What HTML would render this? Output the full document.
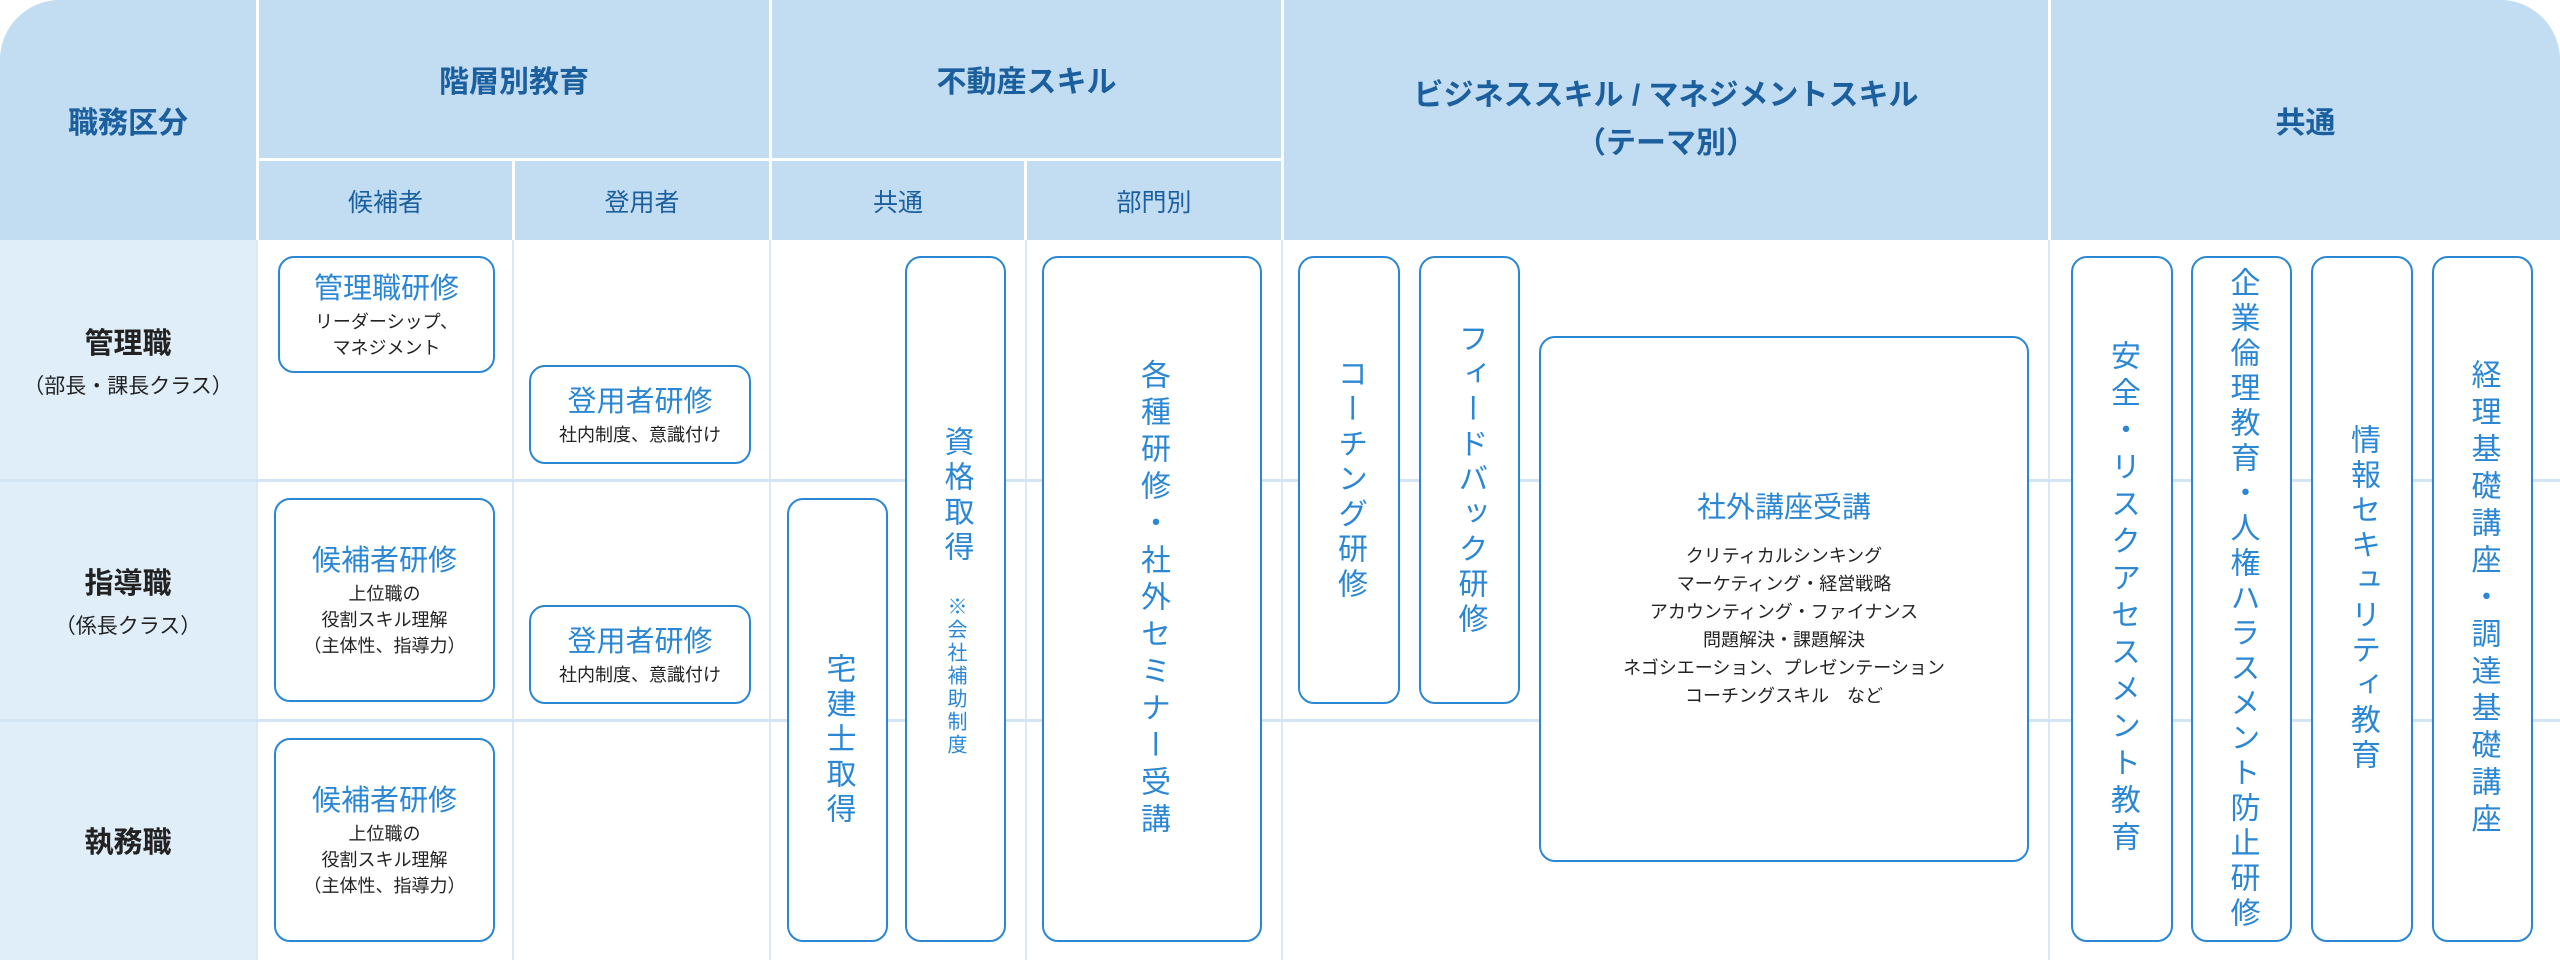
<!DOCTYPE html>
<html><head><meta charset="utf-8"><style>
*{margin:0;padding:0;box-sizing:border-box}
body{width:2560px;height:960px;background:#fff;position:relative;overflow:hidden;font-family:"Liberation Sans","Noto Sans CJK JP",sans-serif}
.a{position:absolute}
.hd{background:#c2ddf2;color:#1b5f9e;font-weight:bold;display:flex;align-items:center;justify-content:center;text-align:center}
.t{font-size:30px}
.s{font-size:25px;font-weight:normal}
.vl{position:absolute;top:240px;height:720px;width:2px;background:#dbe8f5}
.hl{position:absolute;left:0;width:2560px;height:3px;background:#d3e5f5}
.bx{position:absolute;border:2.5px solid #2b87d3;border-radius:16px;background:#fff;display:flex;flex-direction:column;align-items:center;justify-content:center;text-align:center}
.bt{color:#2b87d3;font-size:29px;line-height:40px}
.bs{color:#222;font-size:18px;line-height:26px}
.v{writing-mode:vertical-rl;text-orientation:upright;color:#2b87d3;font-size:30px;letter-spacing:5px}
.rl{position:absolute;left:0;width:256px;background:#e0eefa;display:flex;flex-direction:column;align-items:center;justify-content:center;color:#222}
.rl b{font-size:29px}
.rl span{font-size:21px;margin-top:8px}
</style></head><body>
<div class="a" style="left:0;top:0;width:2560px;height:240px;background:#c2ddf2;border-radius:60px 60px 0 0"></div>
<div class="a hd t" style="left:0;top:0;width:256px;height:240px;border-radius:60px 0 0 0">職務区分</div>
<div class="a hd t" style="left:259px;top:0;width:510px;height:158px">階層別教育</div>
<div class="a hd s" style="left:259px;top:161px;width:253px;height:79px">候補者</div>
<div class="a hd s" style="left:515px;top:161px;width:254px;height:79px">登用者</div>
<div class="a hd t" style="left:772px;top:0;width:509px;height:158px">不動産スキル</div>
<div class="a hd s" style="left:772px;top:161px;width:252px;height:79px">共通</div>
<div class="a hd s" style="left:1027px;top:161px;width:254px;height:79px">部門別</div>
<div class="a hd t" style="left:1284px;top:0;width:764px;height:240px;line-height:48px">ビジネススキル / マネジメントスキル<br>（テーマ別）</div>
<div class="a hd t" style="left:2051px;top:0;width:509px;height:240px;border-radius:0 60px 0 0">共通</div>
<div class="a" style="left:256px;top:0;width:3px;height:240px;background:#fff"></div>
<div class="a" style="left:769px;top:0;width:3px;height:240px;background:#fff"></div>
<div class="a" style="left:1281px;top:0;width:3px;height:240px;background:#fff"></div>
<div class="a" style="left:2048px;top:0;width:3px;height:240px;background:#fff"></div>
<div class="a" style="left:259px;top:158px;width:1022px;height:3px;background:#fff"></div>
<div class="a" style="left:512px;top:161px;width:3px;height:79px;background:#fff"></div>
<div class="a" style="left:1024px;top:161px;width:3px;height:79px;background:#fff"></div>
<div class="rl" style="top:240px;height:240px"><b>管理職</b><span>（部長・課長クラス）</span></div>
<div class="rl" style="top:480px;height:240px"><b>指導職</b><span>（係長クラス）</span></div>
<div class="rl" style="top:720px;height:240px"><b>執務職</b></div>
<div class="vl" style="left:256px"></div>
<div class="vl" style="left:512px"></div>
<div class="vl" style="left:769px"></div>
<div class="vl" style="left:1025px"></div>
<div class="vl" style="left:1281px"></div>
<div class="vl" style="left:2048px"></div>
<div class="hl" style="top:479px"></div>
<div class="hl" style="top:719px"></div>

<div class="bx" style="left:278px;top:256px;width:217px;height:117px"><div class="bt">管理職研修</div><div class="bs">リーダーシップ、<br>マネジメント</div></div>
<div class="bx" style="left:529px;top:365px;width:222px;height:99px"><div class="bt">登用者研修</div><div class="bs">社内制度、意識付け</div></div>
<div class="bx" style="left:274px;top:498px;width:221px;height:204px"><div class="bt">候補者研修</div><div class="bs">上位職の<br>役割スキル理解<br>（主体性、指導力）</div></div>
<div class="bx" style="left:529px;top:605px;width:222px;height:99px"><div class="bt">登用者研修</div><div class="bs">社内制度、意識付け</div></div>
<div class="bx" style="left:274px;top:738px;width:221px;height:204px"><div class="bt">候補者研修</div><div class="bs">上位職の<br>役割スキル理解<br>（主体性、指導力）</div></div>

<div class="bx" style="left:787px;top:498px;width:101px;height:444px"><div class="v" style="margin-top:40px">宅建士取得</div></div>
<div class="bx" style="left:905px;top:256px;width:101px;height:686px;justify-content:flex-start"><div class="v" style="margin-top:168px">資格取得</div><div class="v" style="font-size:20px;letter-spacing:3px;margin-top:30px">※会社補助制度</div></div>
<div class="bx" style="left:1042px;top:256px;width:220px;height:686px"><div class="v" style="letter-spacing:7px">各種研修・社外セミナー受講</div></div>
<div class="bx" style="left:1298px;top:256px;width:102px;height:448px"><div class="v">コーチング研修</div></div>
<div class="bx" style="left:1419px;top:256px;width:101px;height:448px"><div class="v">フィードバック研修</div></div>
<div class="bx" style="left:1539px;top:336px;width:490px;height:526px"><div class="bt" style="margin-bottom:14px">社外講座受講</div><div class="bs" style="line-height:28px">クリティカルシンキング<br>マーケティング・経営戦略<br>アカウンティング・ファイナンス<br>問題解決・課題解決<br>ネゴシエーション、プレゼンテーション<br>コーチングスキル　など</div></div>

<div class="bx" style="left:2071px;top:256px;width:102px;height:686px"><div class="v" style="letter-spacing:7px">安全・リスクアセスメント教育</div></div>
<div class="bx" style="left:2191px;top:256px;width:101px;height:686px"><div class="v" style="letter-spacing:5px">企業倫理教育・人権ハラスメント防止研修</div></div>
<div class="bx" style="left:2311px;top:256px;width:102px;height:686px"><div class="v" style="letter-spacing:5px">情報セキュリティ教育</div></div>
<div class="bx" style="left:2432px;top:256px;width:101px;height:686px"><div class="v" style="letter-spacing:7px">経理基礎講座・調達基礎講座</div></div>
</body></html>
